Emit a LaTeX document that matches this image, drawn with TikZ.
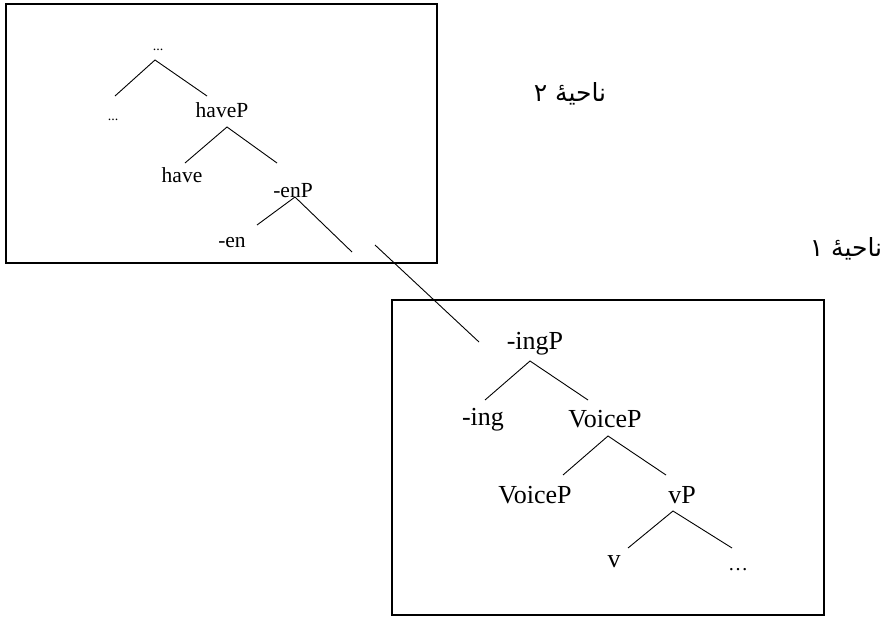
\documentclass[tikz,border=0pt]{standalone}
\usepackage{fontspec}
\setmainfont{Liberation Serif}
\newfontfamily\arabicfont[Script=Arabic]{DejaVu Sans}
\TeXXeTstate=1
\begin{document}
\begin{tikzpicture}[x=1pt,y=-1pt,
  toptxt/.style={font=\fontsize{21.5}{21.5}\selectfont, inner sep=0pt, anchor=base},
  lowtxt/.style={font=\fontsize{26}{26}\selectfont, inner sep=0pt, anchor=base},
  dotstxt/.style={font=\fontsize{14}{14}\selectfont, inner sep=0pt, anchor=base},
  branch/.style={line width=0.9pt},
  zonebox/.style={draw, line width=1.8pt, inner sep=0pt},
  zonelbl/.style={font=\arabicfont\fontsize{25}{25}\selectfont, inner sep=0pt}]
\useasboundingbox (0,0) rectangle (890,616);

% frames
\node[zonebox, minimum width=431pt, minimum height=259pt] (zone2) at (221.5,133.5) {};
\node[zonebox, minimum width=432pt, minimum height=315pt] (zone1) at (608,457.5) {};

% zone labels
\node[zonelbl] (lbl2) at (570,94) {\beginR ناحیهٔ ۲\endR};
\node[zonelbl] (lbl1) at (846,249) {\beginR ناحیهٔ ۱\endR};

% upper tree
\node[dotstxt] (topdots) at (158,50) {...};
\node[dotstxt] (leftdots) at (113,120) {...};
\node[toptxt] (haveP) at (222,117) {haveP};
\node[toptxt] (have) at (182,182) {have};
\node[toptxt] (enP) at (293,197) {-enP};
\node[toptxt] (en) at (232,247) {-en};

% lower tree
\node[lowtxt] (ingP) at (535,349) {-ingP};
\node[lowtxt] (ing) at (483,425) {-ing};
\node[lowtxt] (voiceP) at (605,427) {VoiceP};
\node[lowtxt] (voiceP2) at (535,503) {VoiceP};
\node[lowtxt] (vP) at (682,503) {vP};
\node[lowtxt] (v) at (614,567) {v};
\node[font=\fontsize{20}{20}\selectfont, inner sep=0pt, anchor=base] (rest) at (738,570) {\ldots};

% junction and end points
\coordinate (topdots-j) at (155,60);
\coordinate (leftdots-e) at (115,96);
\coordinate (haveP-e) at (207,96);
\coordinate (haveP-j) at (227,127);
\coordinate (have-e) at (185,163);
\coordinate (enP-e) at (277,163);
\coordinate (enP-j) at (295,197);
\coordinate (en-e) at (257,225);
\coordinate (enP-r) at (352,252);
\coordinate (link-s) at (375,245);
\coordinate (ingP-e) at (479,342);
\coordinate (ingP-j) at (530,361);
\coordinate (ing-e) at (485,400);
\coordinate (voiceP-e) at (588,400);
\coordinate (voiceP-j) at (608,436);
\coordinate (voiceP2-e) at (563,475);
\coordinate (vP-e) at (666,475);
\coordinate (vP-j) at (673,511);
\coordinate (v-e) at (628,548);
\coordinate (rest-e) at (732,548);

% branches
\draw[branch] (leftdots-e) -- (topdots-j) -- (haveP-e);
\draw[branch] (have-e) -- (haveP-j) -- (enP-e);
\draw[branch] (en-e) -- (enP-j) -- (enP-r);
\draw[branch] (link-s) -- (ingP-e);
\draw[branch] (ing-e) -- (ingP-j) -- (voiceP-e);
\draw[branch] (voiceP2-e) -- (voiceP-j) -- (vP-e);
\draw[branch] (v-e) -- (vP-j) -- (rest-e);
\end{tikzpicture}
\end{document}
